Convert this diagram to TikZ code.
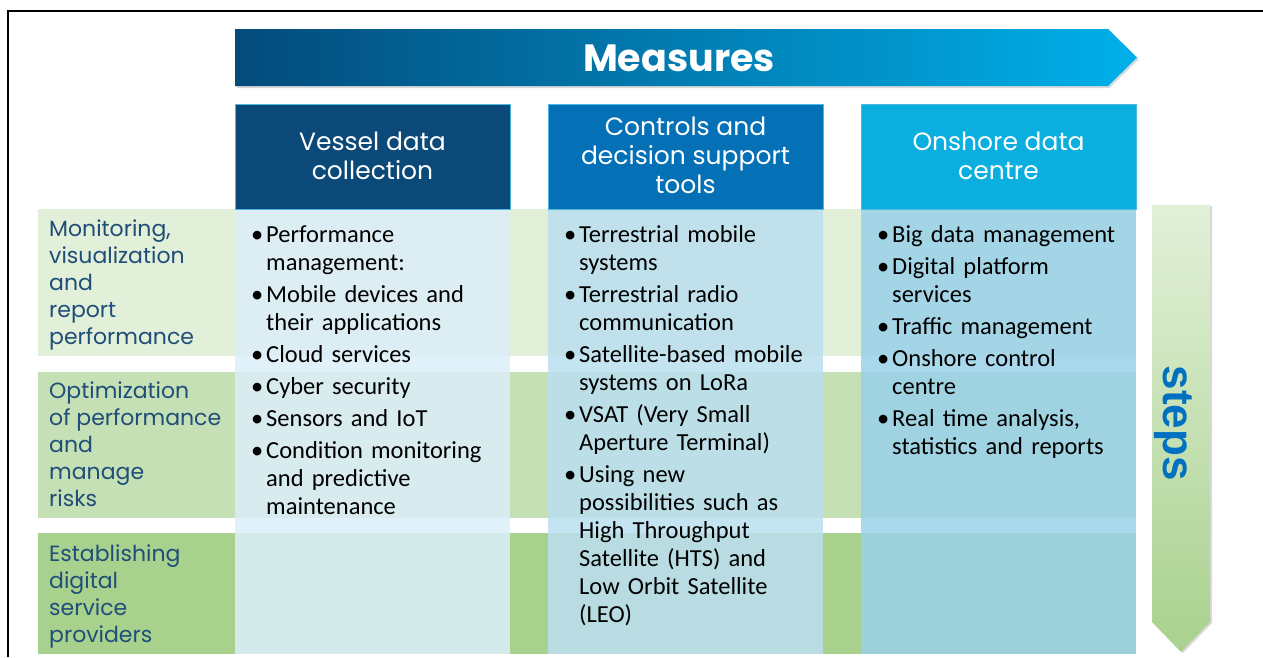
\documentclass[tikz,border=0pt]{standalone}
\usepackage{fontspec}
\setmainfont{Carlito}
\newfontfamily\headfont{Poppins}
\newfontfamily\stepsfont{Liberation Sans}
\usetikzlibrary{shadows}

\definecolor{navyhead}{HTML}{0B4A78}
\definecolor{midhead}{HTML}{0470B6}
\definecolor{cyanhead}{HTML}{0AAFE0}
\definecolor{headedge}{HTML}{4DB6E2}
\definecolor{measleft}{HTML}{034B7B}
\definecolor{measright}{HTML}{00B0EA}
\definecolor{bodyone}{HTML}{DCEEF9}
\definecolor{bodytwo}{HTML}{BBDFF0}
\definecolor{bodythree}{HTML}{9AD1EA}
\definecolor{bandone}{HTML}{E2F0D9}
\definecolor{bandtwo}{HTML}{C5E0B4}
\definecolor{bandthree}{HTML}{A9D18E}
\definecolor{labelblue}{HTML}{1F4E79}
\definecolor{stepsblue}{HTML}{0070C0}

% One bullet point of a column list.
\newcommand{\bitem}[1]{\par\hangindent=15pt\hangafter=1\noindent\hbox to 15pt{\strut\textbullet\hfil}#1}

\begin{document}
\begin{tikzpicture}[x=1pt, y=-1pt,
    band/.style={fill=#1},
    colbody/.style={fill=#1, fill opacity=0.85},
    colhead/.style={draw=headedge, line width=0.8pt, fill=#1},
    headtext/.style={text=white, align=center, font=\headfont\fontsize{25}{29}\selectfont},
    steplabel/.style={anchor=north west, inner sep=0pt, align=left, text=labelblue, font=\headfont\fontsize{22}{27}\selectfont},
    itemlist/.style={anchor=north west, inner sep=0pt, text width=272pt, align=left, font=\fontsize{24.5}{28}\selectfont}]
    \useasboundingbox (0,0) rectangle (1263,657);

    % Frame.
    \draw[line width=2.5pt] (8,657) -- (8,11) -- (1263,11);

    % Step bands.
    \fill[band=bandone]   (38,209) rectangle (1136,356);
    \fill[band=bandtwo]   (38,372) rectangle (1136,518);
    \fill[band=bandthree] (38,533) rectangle (1136,654);

    % Column bodies.
    \fill[colbody=bodyone]   (235,209) rectangle (510,654);
    \fill[colbody=bodytwo]   (548,209) rectangle (823,654);
    \fill[colbody=bodythree] (861,209) rectangle (1136,654);

    % Column headers.
    \filldraw[colhead=navyhead] (235,104) rectangle (510,209);
    \filldraw[colhead=midhead]  (548,104) rectangle (823,209);
    \filldraw[colhead=cyanhead] (861,104) rectangle (1136,209);
    \node[headtext] (vessel)   at (372.5,156) {Vessel data\\collection};
    \node[headtext] (controls) at (685.5,155) {Controls and\\decision support\\tools};
    \node[headtext] (onshore)  at (998.5,156) {Onshore data\\centre};

    % Measures arrow.
    \shade[left color=measleft, right color=measright,
        drop shadow={shadow xshift=1.5pt, shadow yshift=-2pt, opacity=0.3}]
        (235,29) -- (1108,29) -- (1137,57.5) -- (1108,86) -- (235,86) -- cycle;
    \node[text=white, font=\headfont\bfseries\fontsize{38}{42}\selectfont] (measures) at (679,58) {Measures};

    % Steps arrow.
    \shade[top color=bandone, bottom color=bandthree,
        drop shadow={shadow xshift=2pt, shadow yshift=-1pt, opacity=0.3}]
        (1152,205) -- (1210,205) -- (1210,622) -- (1181,652) -- (1152,622) -- cycle;
    \node[rotate=-90, text=stepsblue, font=\stepsfont\bfseries\fontsize{44}{48}\selectfont] (steps) at (1173,423) {steps};

    % Step labels.
    \node[steplabel] (monitoring) at (49,220) {Monitoring,\\visualization\\and\\report\\performance};
    \node[steplabel] (optimization) at (49,382) {Optimization\\of performance\\and\\manage\\risks};
    \node[steplabel] (establishing) at (49,545) {Establishing\\digital\\service\\providers};

    % Column lists.
    \node[itemlist] (vessellist) at (251,210) {\setlength{\parskip}{4pt}%
        \bitem{Performance\newline management:}
        \bitem{Mobile devices and\newline their applications}
        \bitem{Cloud services}
        \bitem{Cyber security}
        \bitem{Sensors and IoT}
        \bitem{Condition monitoring\newline and predictive\newline maintenance}\par};
    \node[itemlist] (controlslist) at (564,210) {\setlength{\parskip}{4pt}%
        \bitem{Terrestrial mobile\newline systems}
        \bitem{Terrestrial radio\newline communication}
        \bitem{Satellite-based mobile\newline systems on LoRa}
        \bitem{VSAT (Very Small\newline Aperture Terminal)}
        \bitem{Using new\newline possibilities such as\newline High Throughput\newline Satellite (HTS) and\newline Low Orbit Satellite\newline (LEO)}\par};
    \node[itemlist] (onshorelist) at (877,210) {\setlength{\parskip}{4pt}%
        \bitem{Big data management}
        \bitem{Digital platform\newline services}
        \bitem{Traffic management}
        \bitem{Onshore control\newline centre}
        \bitem{Real time analysis,\newline statistics and reports}\par};
\end{tikzpicture}
\end{document}
